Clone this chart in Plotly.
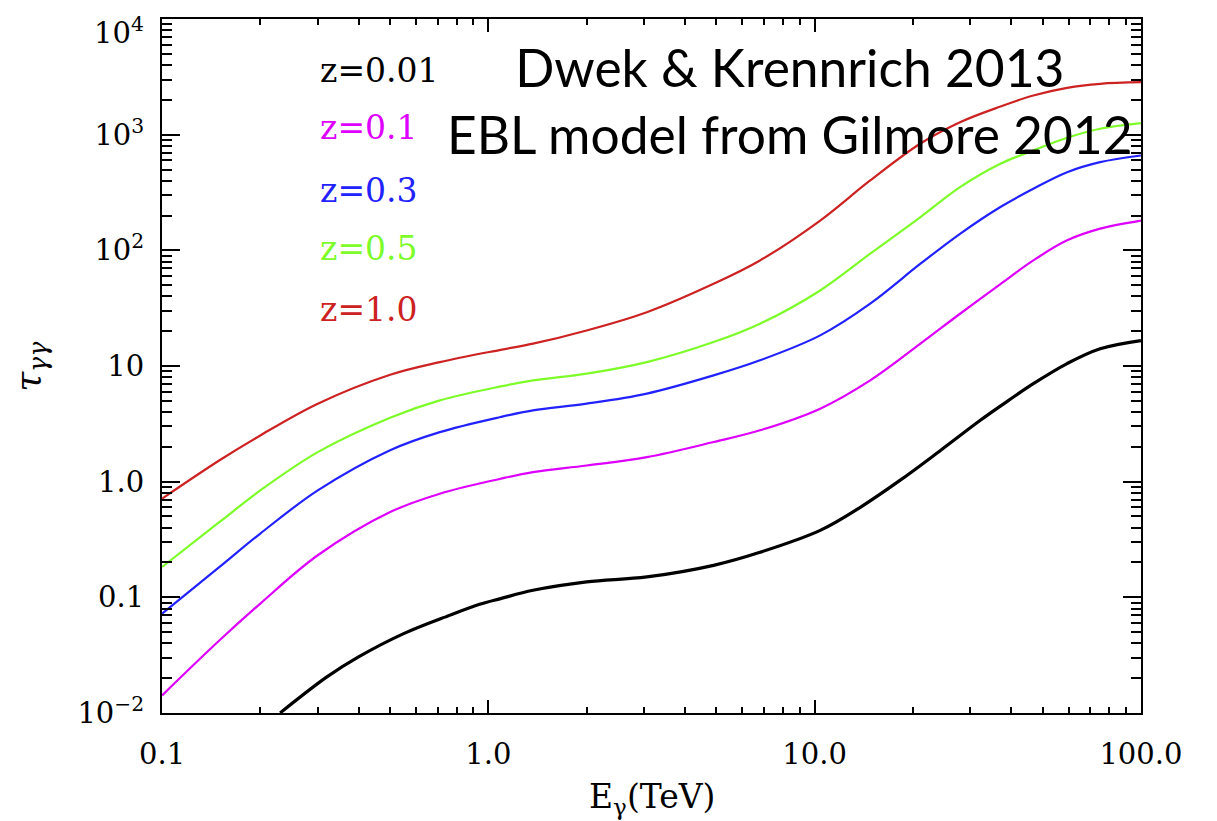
import plotly.graph_objects as go

# Photon energy grid (TeV) shared by the z = 0.1 ... 1.0 curves
energy = [0.1, 0.15, 0.2, 0.3, 0.5, 0.71, 1.09, 1.37, 2.0, 3.06, 4.9, 6.8,
          10.4, 14.8, 21.1, 27.9, 37.1, 46.8, 59.4, 75.0, 100.0]

# Optical depth tau_gamma-gamma per redshift
tau_z010 = [0.0142, 0.0425, 0.0883, 0.231, 0.546, 0.787, 1.06, 1.21, 1.38, 1.63,
            2.20, 2.78, 4.28, 7.51, 15.6, 28.3, 51.0, 81.8, 122, 154, 181]
tau_z030 = [0.0723, 0.183, 0.356, 0.84, 1.87, 2.68, 3.62, 4.13, 4.72, 5.77,
            8.29, 11.2, 18.4, 34.6, 76.6, 139, 237, 341, 474, 579, 661]
tau_z050 = [0.183, 0.448, 0.84, 1.80, 3.57, 5.04, 6.66, 7.51, 8.58, 10.8,
            16.1, 23.2, 45.0, 93.5, 194, 352, 561, 730, 940, 1125, 1257]
tau_z100 = [0.713, 1.53, 2.51, 4.72, 8.4, 10.8, 13.8, 15.6, 20.3, 29.2,
            51.4, 81.8, 181, 402, 839, 1282, 1752, 2182, 2543, 2754, 2843]

# z = 0.01 enters the plotted range only above ~0.23 TeV
energy_z001 = [0.23, 0.32, 0.4, 0.55, 0.76, 0.94, 1.09, 1.37, 2.0, 3.06, 4.9, 6.8,
               10.4, 13.8, 18.3, 24.3, 32.2, 37.1, 46.8, 59.4, 75.0, 100.0]
tau_z001 = [0.0100, 0.0205, 0.0305, 0.0485, 0.0698, 0.0871, 0.0975, 0.115, 0.136,
            0.150, 0.189, 0.245, 0.379, 0.600, 1.03, 1.86, 3.39, 4.50, 7.03,
            10.5, 14.1, 16.6]

labels = ["z=0.01", "z=0.1", "z=0.3", "z=0.5", "z=1.0"]
colors = ["#000000", "#dd00ff", "#2222ff", "#7dfc2a", "#cc2222"]

x_tickvals = [0.1, 1, 10, 100]
x_ticktext = ["0.1", "1.0", "10.0", "100.0"]
y_tickvals = [0.01, 0.1, 1, 10, 100, 1000, 10000]
# the top decade label is placed separately so it stays inside the page
y_ticktext = ["10<sup>\u22122</sup>", "0.1", "1.0", "10",
              "10<sup>2</sup>", "10<sup>3</sup>", ""]
y_top_label = "10<sup>4</sup>"

series = [
    (energy_z001, tau_z001, 3.2),
    (energy, tau_z010, 2.2),
    (energy, tau_z030, 2.2),
    (energy, tau_z050, 2.2),
    (energy, tau_z100, 2.2),
]

fig = go.Figure()
for (xs, ys, w), name, c in zip(series, labels, colors):
    fig.add_trace(go.Scatter(x=xs, y=ys, mode="lines", name=name,
                             line=dict(color=c, width=w, shape="spline", smoothing=1.0)))


def minor_vals(lo, hi):
    vals = []
    for d in range(lo, hi):
        for m in range(2, 10):
            vals.append(m * 10.0 ** d)
    return vals


serif = "DejaVu Serif"
axis_common = dict(
    type="log", showgrid=False, zeroline=False, automargin=False,
    showline=True, linecolor="black", linewidth=2, mirror="allticks",
    ticks="inside", tickcolor="black", tickwidth=2,
    tickfont=dict(family=serif, size=29, color="black"),
    ticklabeloverflow="allow",
)

fig.update_xaxes(
    **axis_common, range=[-1.0003, 2.0003], tickmode="array",
    tickvals=x_tickvals, ticktext=x_ticktext, ticklen=13, ticklabelstandoff=14,
    minor=dict(tickmode="array", tickvals=minor_vals(-1, 2), ticks="inside",
               ticklen=6, tickwidth=2, tickcolor="black", showgrid=False),
)
fig.update_yaxes(
    **axis_common, range=[-2.0003, 4.0003], tickmode="array",
    tickvals=y_tickvals, ticktext=y_ticktext, ticklen=18, ticklabelstandoff=10,
    minor=dict(tickmode="array", tickvals=minor_vals(-2, 4), ticks="inside",
               ticklen=10, tickwidth=2, tickcolor="black", showgrid=False),
)

# Top decade label of the tau axis
fig.add_annotation(text=y_top_label, xref="paper", yref="paper", x=-0.0165, y=0.982,
                   xanchor="right", yanchor="middle", showarrow=False,
                   font=dict(family=serif, size=29, color="black"))

# Redshift labels
label_y = [0.9265, 0.843, 0.7536, 0.6686, 0.5821]
for text, c, yy in zip(labels, colors, label_y):
    fig.add_annotation(text=text, xref="paper", yref="paper", x=0.1594, y=yy,
                       xanchor="left", yanchor="middle", showarrow=False,
                       font=dict(family=serif, size=33, color=c))

# Reference note
fig.add_annotation(text="Dwek &amp; Krennrich 2013<br>EBL model from Gilmore 2012",
                   xref="paper", yref="paper", x=0.6415, y=0.978,
                   xanchor="center", yanchor="top", showarrow=False, align="center",
                   font=dict(family="Lato", size=51.5, color="black"))

# Axis titles
fig.add_annotation(text="E<sub>\u03b3</sub>(TeV)", xref="paper", yref="paper",
                   x=0.5, y=-0.09, xanchor="center", yanchor="top", showarrow=False,
                   font=dict(family=serif, size=33, color="black"))
fig.add_annotation(text="<i>\u03c4</i><sub><i>\u03b3\u03b3</i></sub>", xref="paper", yref="paper",
                   x=-0.135, y=0.5, xanchor="center", yanchor="middle", showarrow=False,
                   textangle=-90, font=dict(family=serif, size=36, color="black"))

fig.update_layout(
    width=1217, height=821,
    margin=dict(l=162, r=76, t=19, b=108, autoexpand=False),
    paper_bgcolor="white", plot_bgcolor="white",
    showlegend=False,
)

fig.write_html("out.html")
